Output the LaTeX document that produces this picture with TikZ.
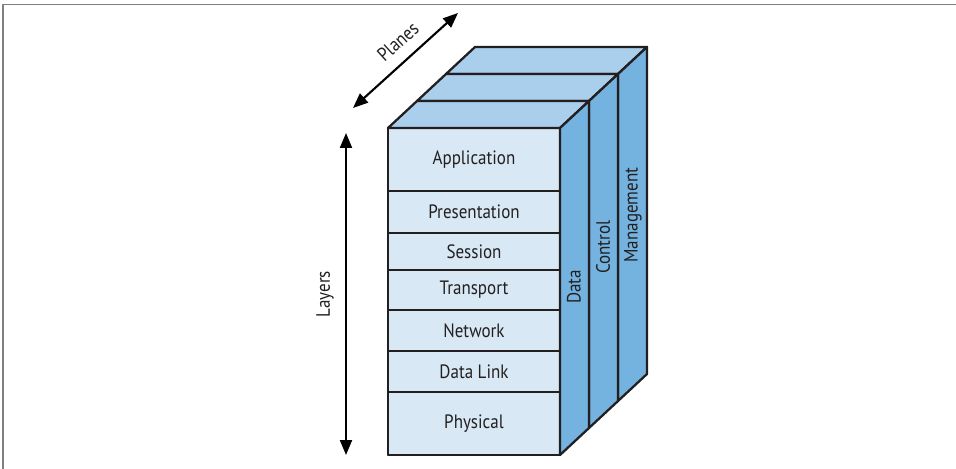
\documentclass[tikz,border=0pt]{standalone}
\usepackage{fontspec}
\setmainfont{PT Sans}[FakeStretch=0.88]
\usepackage{xcolor}
\usetikzlibrary{arrows.meta, positioning}

\definecolor{faceblue}{HTML}{D8E9F5}
\definecolor{topblue}{HTML}{A9CFEC}
\definecolor{sideblue}{HTML}{74B2E0}
\definecolor{inkdark}{HTML}{231F20}
\definecolor{framegray}{HTML}{808080}

\begin{document}
\begin{tikzpicture}[
    x=0.02cm, y=-0.02cm,
    line join=round,
    front/.style={draw=inkdark, fill=faceblue, line width=1.3pt},
    topface/.style={draw=inkdark, fill=topblue, line width=1.3pt},
    side/.style={draw=inkdark, fill=sideblue, line width=1.3pt},
    layer/.style={draw=inkdark, line width=1.3pt, minimum width=3.44cm, inner sep=0pt, outer sep=0pt,
      font=\fontsize{11}{13}\selectfont, text=inkdark},
    plabel/.style={rotate=90, font=\fontsize{11}{13}\selectfont, text=inkdark},
    axlabel/.style={sloped, above=3pt, font=\fontsize{11}{13}\selectfont, text=inkdark},
    arr/.style={{Triangle[length=3mm, width=2.4mm]}-{Triangle[length=3mm, width=2.4mm]}, line width=1.2pt, draw=black}
  ]
  \useasboundingbox (0,0) rectangle (956,469);
  \draw[framegray, line width=1.1pt] (3,469) -- (3,4.5) -- (956,4.5);

  % planes, back to front
  \foreach \k in {2,1,0} {
    \begin{scope}[shift={(29*\k,-27*\k)}]
      \filldraw[front] (388,128) rectangle (560,455);
      \filldraw[topface] (388,128) -- (417,101) -- (589,101) -- (560,128) -- cycle;
      \filldraw[side] (560,128) -- (589,101) -- (589,428) -- (560,455) -- cycle;
    \end{scope}
  }
  \node[plabel] (data) at (574,287) {Data};
  \node[plabel] (control) at (603,247) {Control};
  \node[plabel] (mgmt) at (633,215) {Management};

  % layers
  \node[layer, minimum height=1.26cm] (app) at (474,159.5) {Application};
  \node[layer, minimum height=0.84cm, below=0pt of app] (pres) {Presentation};
  \node[layer, minimum height=0.74cm, below=0pt of pres] (sess) {Session};
  \node[layer, minimum height=0.80cm, below=0pt of sess] (trans) {Transport};
  \node[layer, minimum height=0.82cm, below=0pt of trans] (net) {Network};
  \node[layer, minimum height=0.82cm, below=0pt of net] (link) {Data Link};
  \node[layer, minimum height=1.26cm, below=0pt of link] (phys) {Physical};

  % axes
  \coordinate (laybot) at (346,455);
  \coordinate (laytop) at (346,133);
  \coordinate (plfront) at (353,108);
  \coordinate (plback) at (458,13);
  \draw[arr] (laybot) -- node[axlabel] {Layers} (laytop);
  \draw[arr] (plfront) -- node[axlabel, pos=0.55] {Planes} (plback);
\end{tikzpicture}
\end{document}
